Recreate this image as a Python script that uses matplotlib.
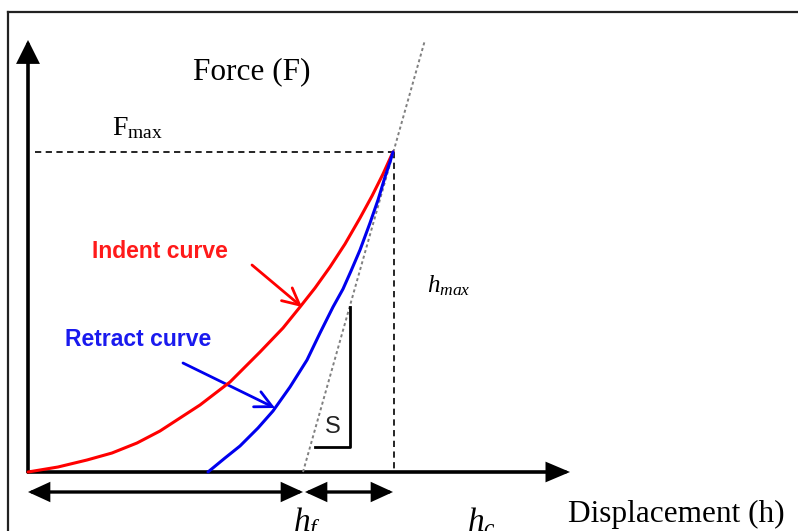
import matplotlib
matplotlib.use("Agg")
import matplotlib.pyplot as plt
from matplotlib.patches import FancyArrowPatch
from matplotlib.patches import ArrowStyle

plt.rcParams['mathtext.fontset'] = 'custom'
plt.rcParams['mathtext.rm'] = 'Liberation Serif'
plt.rcParams['mathtext.it'] = 'Liberation Serif:italic'
plt.rcParams['lines.scale_dashes'] = False

# ---- data (schematic units: displacement h, force F) ----
indent_h = [0, 30, 59, 84, 109, 132, 152, 172, 202, 232, 255, 272, 287, 302,
            317, 332, 344, 355, 365]
indent_F = [0, 5, 12, 19, 29, 41, 54, 67, 90, 120, 144, 165, 184, 205,
            228, 254, 276, 298, 320]
retract_h = [180, 197, 212, 230, 245, 262, 279, 292, 305, 315, 323, 332,
             342, 350, 357, 362, 365]
retract_F = [0, 14, 26, 44, 61, 85, 112, 139, 165, 183, 201, 222,
             249, 272, 295, 310, 320]
h_max = 365
F_max = 320
h_f = 275
tangent_h = [275, 397]
tangent_F = [0, 432]

fig = plt.figure(figsize=(7.98, 5.31), dpi=100)
ax = fig.add_axes([0, 0, 1, 1])
ax.set_xlim(-28, 770)
ax.set_ylim(-59, 472)
ax.axis('off')

# outer frame
ax.plot([-20, 770], [460, 460], color='#222222', lw=1.6, clip_on=False)
ax.plot([-20, -20], [460, -60], color='#222222', lw=1.6, clip_on=False)

def arrow(p0, p1, style, lw, color='black', hl=12, hw=6.5):
    st = ArrowStyle(style, head_length=hl, head_width=hw)
    a = FancyArrowPatch(p0, p1, arrowstyle=st, mutation_scale=1, lw=lw,
                        color=color, shrinkA=0, shrinkB=0, joinstyle='miter')
    ax.add_patch(a)

# axes arrows
arrow((0, 0), (0, 432), '-|>', 2.6, hl=13, hw=6.5)
arrow((0, 0), (542, 0), '-|>', 2.6, hl=13, hw=5.5)

# reference dashed lines
ax.plot([7, h_max], [F_max, F_max], color='black', lw=1.2, dashes=(4.5, 3.2))
ax.plot([h_max + 1, h_max + 1], [F_max, 0], color='black', lw=1.2, dashes=(4.5, 3.2))

# tangent (stiffness) line
ax.plot(tangent_h, tangent_F, color='#808080', lw=1.4, dashes=(2.2, 2.0))

# curves
ax.plot(indent_h, indent_F, color='#ff0000', lw=2.2, solid_capstyle='round',
        solid_joinstyle='round')
ax.plot(retract_h, retract_F, color='#0000ee', lw=2.2, solid_capstyle='round',
        solid_joinstyle='round')

# S bracket
ax.plot([287, 322, 322], [25, 25, 165], color='black', lw=2.0)
ax.text(305, 45, 'S', fontsize=17, family='Liberation Sans', color='#222222',
        ha='center', va='center')

# labels
ax.text(64, 220, 'Indent curve', fontsize=16.5, family='Liberation Sans',
        weight='bold', color='#ff1a1a', ha='left', va='center')
ax.text(37, 132, 'Retract curve', fontsize=16.5, family='Liberation Sans',
        weight='bold', color='#1a1aee', ha='left', va='center')

arrow((224, 207), (274, 165), '->', 2.0, color='#ff0000', hl=12, hw=6)
arrow((155, 109), (247, 64), '->', 2.0, color='#0000ee', hl=12, hw=6)

ax.text(165, 393, 'Force (F)', fontsize=22.5, family='Liberation Serif',
        ha='left', va='baseline')
ax.text(84, 337, r'$\mathrm{F}_{\mathrm{max}}$', fontsize=20,
        ha='left', va='baseline')
ax.text(399, 180, r'$h_{max}$', fontsize=18, ha='left', va='baseline')
ax.text(540, -50, 'Displacement (h)', fontsize=22.5, family='Liberation Serif',
        ha='left', va='baseline')

# bottom double arrows
arrow((0, -20), (h_f, -20), '<|-|>', 2.4, hl=12, hw=5.5)
arrow((h_f + 2, -20), (h_max, -20), '<|-|>', 2.4, hl=12, hw=5.5)
ax.text(265, -59, r'$h_f$', fontsize=24, ha='left', va='baseline')
ax.text(439, -59, r'$h_c$', fontsize=24, ha='left', va='baseline')

fig.savefig('out.png', dpi=100)
